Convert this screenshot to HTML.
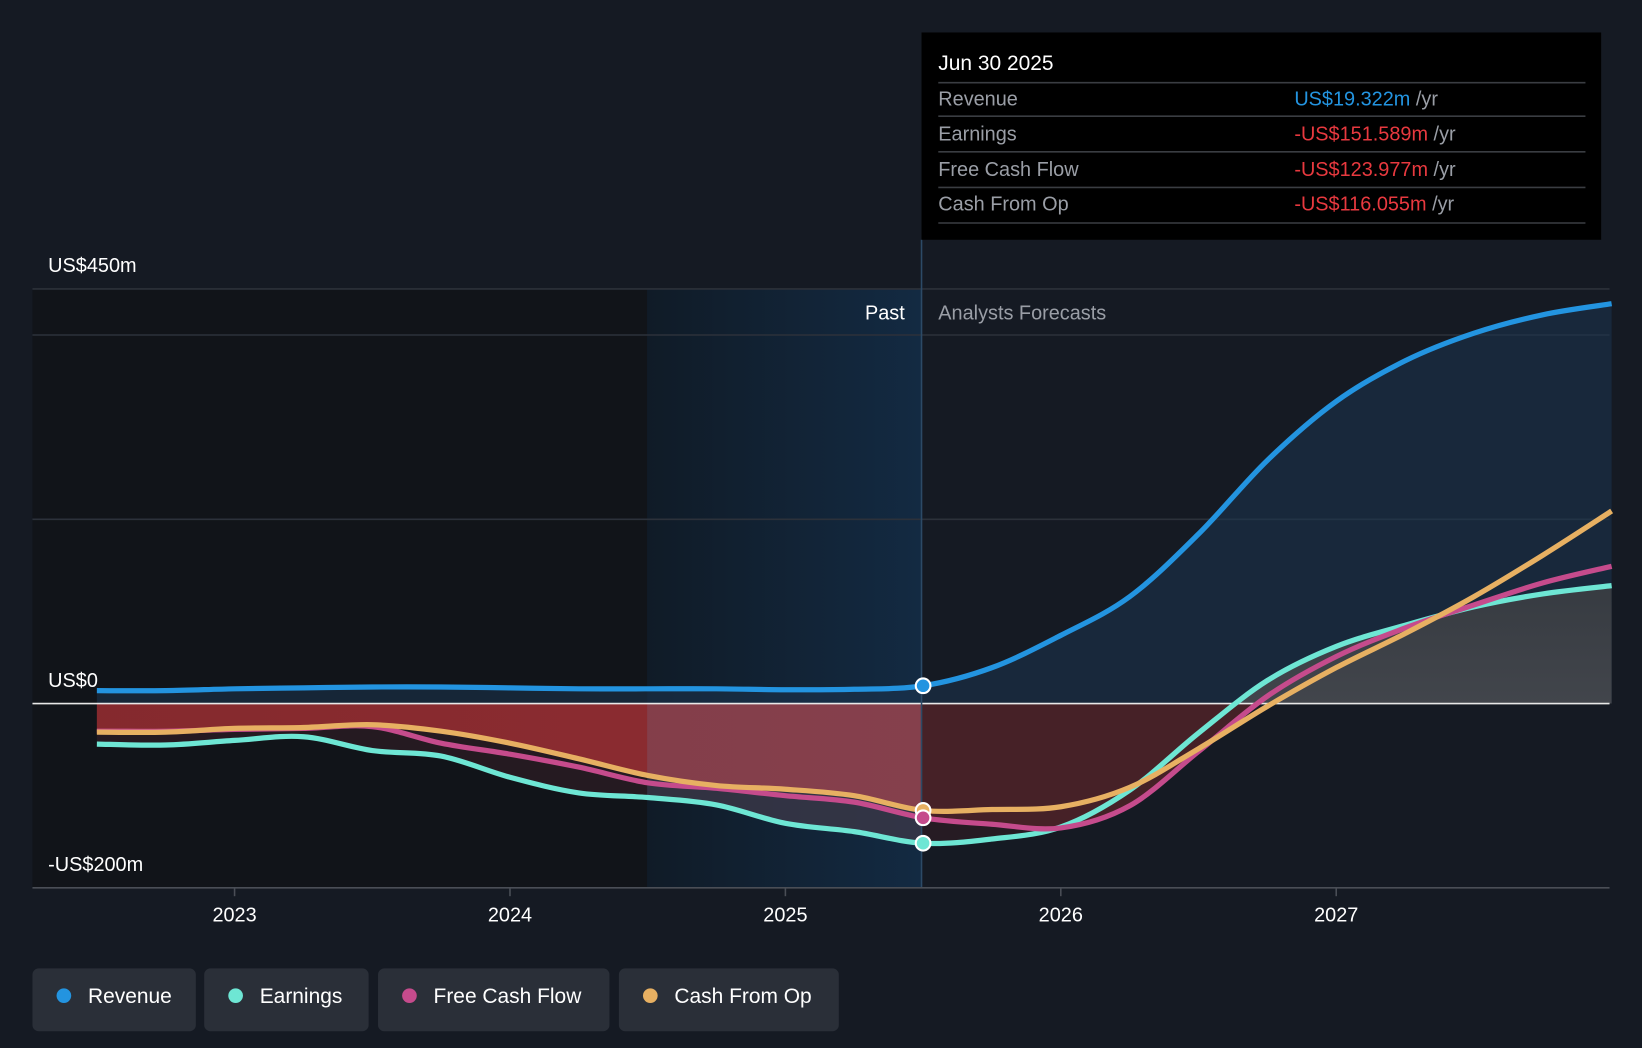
<!DOCTYPE html>
<html><head><meta charset="utf-8"><style>
html,body{margin:0;padding:0;background:#151a23;}
svg{display:block;font-family:"Liberation Sans",sans-serif;}
</style></head><body>
<svg id="chart" width="1642" height="1048" viewBox="0 0 1568 1001" preserveAspectRatio="none">
<defs>
<linearGradient id="pastG" x1="0" x2="1" y1="0" y2="0"><stop offset="0" stop-color="#101b27"/><stop offset="1" stop-color="#132a42"/></linearGradient>
<linearGradient id="redG" x1="0" x2="1" y1="0" y2="0"><stop offset="0" stop-color="#8a2a2e"/><stop offset="1" stop-color="#9a3036"/></linearGradient>
<linearGradient id="greyG" x1="0" x2="0" y1="0" y2="1"><stop offset="0" stop-color="#3a3d42"/><stop offset="1" stop-color="#55565b"/></linearGradient>
<clipPath id="clipNeg"><rect x="0" y="672" width="1568" height="200"/></clipPath>
<clipPath id="clipPos"><rect x="0" y="0" width="1568" height="672"/></clipPath>
<clipPath id="clipPast"><rect x="0" y="0" width="880" height="1001"/></clipPath>
<clipPath id="clipFut"><rect x="880" y="0" width="700" height="1001"/></clipPath>
<clipPath id="clipLastYear"><rect x="618" y="672" width="262" height="200"/></clipPath>
</defs>
<rect x="0" y="0" width="1568" height="1001" fill="#151a23"/>
<rect x="31" y="276" width="587" height="572" fill="#111419"/>
<rect x="618" y="276" width="262" height="572" fill="url(#pastG)"/>
<g id="grid"></g>
<g id="areas"></g>
<g id="lines"></g>
<line x1="880" y1="229" x2="880" y2="848" stroke="#2c4a66" stroke-width="1.5"/>
<text x="864" y="305" fill="#ffffff" font-size="19" text-anchor="end">Past</text>
<text x="896" y="305" fill="#9a9ea6" font-size="19">Analysts Forecasts</text>
<g id="axes"></g>
<g id="markers"></g>
<g>
<rect x="880" y="31" width="649" height="198" fill="#000"/>
<text x="896" y="67" fill="#fff" font-size="20">Jun 30 2025</text>
<g stroke="#3a3d42" stroke-width="1.5">
<line x1="896" y1="79" x2="1514" y2="79"/><line x1="896" y1="111" x2="1514" y2="111"/><line x1="896" y1="145" x2="1514" y2="145"/><line x1="896" y1="179" x2="1514" y2="179"/><line x1="896" y1="213" x2="1514" y2="213"/></g>
<g font-size="19" fill="#9a9ea6">
<text x="896" y="101">Revenue</text>
<text x="896" y="134">Earnings</text>
<text x="896" y="168">Free Cash Flow</text>
<text x="896" y="201">Cash From Op</text>
</g>
<g font-size="19">
<text x="1236" y="101"><tspan fill="#2394e0">US$19.322m</tspan><tspan fill="#9a9ea6"> /yr</tspan></text>
<text x="1236" y="134"><tspan fill="#e8393f">-US$151.589m</tspan><tspan fill="#9a9ea6"> /yr</tspan></text>
<text x="1236" y="168"><tspan fill="#e8393f">-US$123.977m</tspan><tspan fill="#9a9ea6"> /yr</tspan></text>
<text x="1236" y="201"><tspan fill="#e8393f">-US$116.055m</tspan><tspan fill="#9a9ea6"> /yr</tspan></text>
</g>
</g>
<g font-size="20" fill="#fff">
<g><rect x="31" y="925" width="156" height="60" rx="6" fill="#2a2f38"/><circle cx="61" cy="951" r="7" fill="#2394e0"/><text x="84" y="958">Revenue</text></g>
<g><rect x="195" y="925" width="157" height="60" rx="6" fill="#2a2f38"/><circle cx="225" cy="951" r="7" fill="#6ee6d4"/><text x="248" y="958">Earnings</text></g>
<g><rect x="361" y="925" width="221" height="60" rx="6" fill="#2a2f38"/><circle cx="391" cy="951" r="7" fill="#c54b8c"/><text x="414" y="958">Free Cash Flow</text></g>
<g><rect x="591" y="925" width="210" height="60" rx="6" fill="#2a2f38"/><circle cx="621" cy="951" r="7" fill="#e7b062"/><text x="644" y="958">Cash From Op</text></g>
</g>
</svg>
<script>
const times = [2022.5,2022.75,2023,2023.25,2023.5,2023.75,2024,2024.25,2024.5,2024.75,2025,2025.25,2025.5,2025.75,2026,2026.25,2026.5,2026.75,2027,2027.25,2027.5,2027.75,2028.0];
const revenue = [14,14,16,17,18,18,17,16,16,16,15,15.5,19.3,39,74,116,184,264,328,372,402,422,434];
const earnings = [-44,-45,-40,-36,-51,-57,-80,-97,-102,-110,-130,-139,-151.6,-147,-134,-94,-32,25,62,85,105,119,128];
const fcf = [-30,-30,-28,-27,-25,-43,-55,-69,-86,-92,-100,-107,-124,-131,-135,-111,-52,8,51,82,107,131,149];
const cfo = [-31,-31,-27,-26,-23,-30,-43,-60,-78,-89,-93,-100,-116,-115,-112,-91,-49,-3,39,76,116,161,209];
const yTicks = [450,0,-200];
const yTickLabels = ["US$450m","US$0","-US$200m"];
const gridVals = [450,400,200];
const xTicks = [2023,2024,2025,2026,2027];
const presentTime = 2025.5;

const NS="http://www.w3.org/2000/svg";
function xS(t){return 224+(t-2023)*263;}
function yS(v){return 672-v*0.88;}
function mk(tag,attrs,parent){const e=document.createElementNS(NS,tag);for(const k in attrs)e.setAttribute(k,attrs[k]);parent.appendChild(e);return e;}
function pathD(vals){
  const p=vals.map((v,i)=>[xS(times[i]),yS(v)]);
  let d="M"+p[0][0]+","+p[0][1];
  for(let i=0;i<p.length-1;i++){
    const p0=p[i-1]||p[i],p1=p[i],p2=p[i+1],p3=p[i+2]||p2;
    const c1x=p1[0]+(p2[0]-p0[0])/6,c1y=p1[1]+(p2[1]-p0[1])/6;
    const c2x=p2[0]-(p3[0]-p1[0])/6,c2y=p2[1]-(p3[1]-p1[1])/6;
    d+=" C"+c1x+","+c1y+" "+c2x+","+c2y+" "+p2[0]+","+p2[1];
  }
  return d;
}
function areaD(vals){return pathD(vals)+" L"+xS(times[times.length-1])+","+yS(0)+" L"+xS(times[0])+","+yS(0)+" Z";}
const grid=document.getElementById('grid'),areas=document.getElementById('areas'),lines=document.getElementById('lines'),axes=document.getElementById('axes'),markers=document.getElementById('markers');
gridVals.forEach(v=>{const l=mk('line',{x1:31,x2:1537,y1:yS(v),y2:yS(v),stroke:'#2c313a','stroke-width':1.5},grid);

});
let a;
a=mk('path',{d:areaD(revenue),fill:'#1b3550','fill-opacity':0.55,'clip-path':'url(#clipPos)'},areas);


a=mk('path',{d:areaD(earnings),fill:'url(#greyG)','fill-opacity':0.9,'clip-path':'url(#clipPos)'},areas);


a=mk('path',{d:areaD(earnings),fill:'#2c1c24','fill-opacity':0.75,'clip-path':'url(#clipNeg)'},areas);


const g1=mk('g',{'clip-path':'url(#clipPast)'},areas);
a=mk('path',{d:areaD(cfo),fill:'url(#redG)','fill-opacity':0.95,'clip-path':'url(#clipNeg)'},g1);


const g2=mk('g',{'clip-path':'url(#clipFut)'},areas);
a=mk('path',{d:areaD(fcf),fill:'#4a2228','fill-opacity':0.9,'clip-path':'url(#clipNeg)'},g2);


const g3=mk('g',{'clip-path':'url(#clipLastYear)'},areas);
a=mk('path',{d:areaD(earnings),fill:'#6a8bb5','fill-opacity':0.2},g3);


a=mk('line',{x1:31,x2:1537,y1:yS(0),y2:yS(0),stroke:'#e8e8e8','stroke-width':1.5},areas);


const series=[['earnings-line',earnings,'#6ee6d4'],['free-cash-flow-line',fcf,'#c54b8c'],['cash-from-op-line',cfo,'#e7b062'],['revenue-line',revenue,'#2394e0']];
series.forEach(s=>{const l=mk('path',{d:pathD(s[1]),fill:'none',stroke:s[2],'stroke-width':5,'stroke-linecap':'butt'},lines);

});
const pi=times.indexOf(presentTime);
[[cfo,'#e7b062','cfo-marker'],[fcf,'#c54b8c','fcf-marker'],[earnings,'#6ee6d4','earnings-marker'],[revenue,'#2394e0','revenue-marker']].forEach(m=>{
const c=mk('circle',{cx:xS(presentTime),cy:yS(m[0][pi]),r:7,fill:m[1],stroke:'#fff','stroke-width':2},markers);

});
a=mk('line',{x1:31,x2:1537,y1:848,y2:848,stroke:'#4a4e56','stroke-width':1.5},axes);


yTicks.forEach((v,i)=>{const t=mk('text',{x:46,y:yS(v)-16,fill:'#fff','font-size':19},axes);t.textContent=yTickLabels[i];

});
xTicks.forEach(v=>{const l=mk('line',{x1:xS(v),x2:xS(v),y1:848,y2:856,stroke:'#4a4e56','stroke-width':1.5},axes);


const t=mk('text',{x:xS(v),y:880,fill:'#fff','font-size':19,'text-anchor':'middle'},axes);t.textContent=v;

});
</script>
</body></html>
